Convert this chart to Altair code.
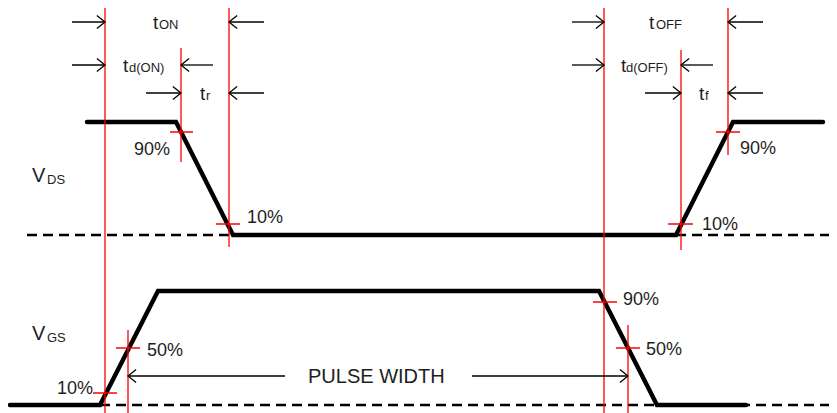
import altair as alt
import pandas as pd

# ---- data (reference pixel coordinates: x to the right, y downward) ----
# black waveforms: polylines
wave_names = ["VDS"] * 6 + ["VGS"] * 6
wave_x = [87, 176, 233, 676, 733, 823, 10, 100, 158, 599, 657, 746]
wave_y = [122, 122, 235, 235, 122, 122, 405, 405, 291, 291, 405, 405]

# dashed baselines (x start, x end, y)
dash_x1 = [27, 676, 100]
dash_x2 = [233, 837, 837]
dash_y = [235, 235, 405]

# red vertical reference lines (x, y top, y bottom)
vline_x = [105, 181, 229, 604, 681, 728, 128, 628]
vline_y1 = [8, 48, 8, 8, 50, 8, 330, 325]
vline_y2 = [413, 162, 247, 413, 250, 155, 413, 413]

# red crossing marks (x start, x end, y)
tick_x1 = [170, 216, 668, 716, 93, 116, 593, 616]
tick_x2 = [193, 240, 693, 740, 117, 140, 617, 640]
tick_y = [132, 224, 224, 132, 393, 348, 302, 348]

# arrows (tail x, head x, y)
arrow_x1 = [72, 264, 72, 213, 146, 264, 572, 763, 572, 713, 645, 763, 285, 472]
arrow_x2 = [105, 229, 105, 181, 181, 229, 604, 728, 604, 681, 681, 728, 128, 628]
arrow_y = [22, 22, 65, 65, 93, 93, 22, 22, 65, 65, 93, 93, 376, 376]

# main labels (text, x left, baseline y, size)
main_text = ["t", "t", "t", "t", "t", "t", "V", "V", "PULSE WIDTH"]
main_x = [153, 123, 200, 649, 621, 699, 32, 32, 308]
main_y = [29, 72, 100, 29, 72, 100, 182, 340, 383]
main_size = [19, 19, 19, 19, 19, 19, 20, 20, 20]

# subscripts
sub_text = ["ON", "d(ON)", "r", "OFF", "d(OFF)", "f", "DS", "GS"]
sub_x = [159, 129, 206, 656, 626, 705, 47, 47]
sub_y = [29, 72, 100, 29, 72, 100, 184, 342]

# percentage labels
pct_text = ["90%", "10%", "10%", "90%", "50%", "10%", "90%", "50%"]
pct_x = [134, 247, 702, 740, 147, 57, 623, 646]
pct_y = [155, 223, 230, 154, 356, 394, 305, 355]

# ---- frames ----
waves = pd.DataFrame({"series": wave_names, "x": wave_x, "y": wave_y,
                      "i": list(range(len(wave_x)))})
dashes = pd.DataFrame({"x": dash_x1, "x2": dash_x2, "y": dash_y})
vlines = pd.DataFrame({"x": vline_x, "y": vline_y1, "y2": vline_y2})
ticks = pd.DataFrame({"x": tick_x1, "x2": tick_x2, "y": tick_y})
arrows = pd.DataFrame({"x": arrow_x1, "x2": arrow_x2, "y": arrow_y})
arrows["ang"] = [0 if b > a else 180 for a, b in zip(arrow_x1, arrow_x2)]
mains = pd.DataFrame({"t": main_text, "x": main_x, "y": main_y, "s": main_size})
subs = pd.DataFrame({"t": sub_text, "x": sub_x, "y": sub_y})
pcts = pd.DataFrame({"t": pct_text, "x": pct_x, "y": pct_y})

W, H = 821, 405
xs = alt.Scale(domain=[8, 8 + W], range=[0, W], nice=False, zero=False)
ys = alt.Scale(domain=[8, 8 + H], range=[0, H], nice=False, zero=False)
X = lambda f="x": alt.X(f, type="quantitative", scale=xs, axis=None)
Y = lambda f="y": alt.Y(f, type="quantitative", scale=ys, axis=None)
FONT = "Liberation Sans"
TXT = "#1e1e1e"

red_v = alt.Chart(vlines).mark_rule(color="#ff0000", strokeWidth=1.3).encode(
    x=X(), y=Y(), y2="y2")
red_t = alt.Chart(ticks).mark_rule(color="#ff0000", strokeWidth=1.5).encode(
    x=X(), x2="x2", y=Y())
dash = alt.Chart(dashes).mark_rule(color="black", strokeWidth=2.5,
                                   strokeDash=[10, 6]).encode(
    x=X(), x2="x2", y=Y())
wave = alt.Chart(waves).mark_line(color="black", strokeWidth=4.4,
                                  strokeCap="round").encode(
    x=X(), y=Y(), detail="series:N", order="i:Q")
shaft = alt.Chart(arrows).mark_rule(color="black", strokeWidth=1.3).encode(
    x=X(), x2="x2", y=Y())
head = alt.Chart(arrows).mark_point(
    shape="M-1.25,-1L0,0L-1.25,1", filled=False, color="black",
    strokeWidth=1.3, size=169, opacity=1).encode(
    x=X("x2"), y=Y(), angle=alt.Angle("ang:Q", scale=None))
main = alt.Chart(mains).mark_text(align="left", baseline="alphabetic",
                                  font=FONT, color=TXT).encode(
    x=X(), y=Y(), text="t:N", size=alt.Size("s:Q", scale=None))
sub = alt.Chart(subs).mark_text(align="left", baseline="alphabetic",
                                font=FONT, fontSize=13, color=TXT).encode(
    x=X(), y=Y(), text="t:N")
pct = alt.Chart(pcts).mark_text(align="left", baseline="alphabetic",
                                font=FONT, fontSize=18, color=TXT).encode(
    x=X(), y=Y(), text="t:N")

chart = alt.layer(dash, wave, red_v, red_t, shaft, head, main, sub, pct).properties(
    width=W, height=H, padding=0,
    autosize=alt.AutoSizeParams(type="none"),
    background="white",
).configure_view(stroke=None)

chart.save("out.html", embed_options={"renderer": "svg", "actions": False})
